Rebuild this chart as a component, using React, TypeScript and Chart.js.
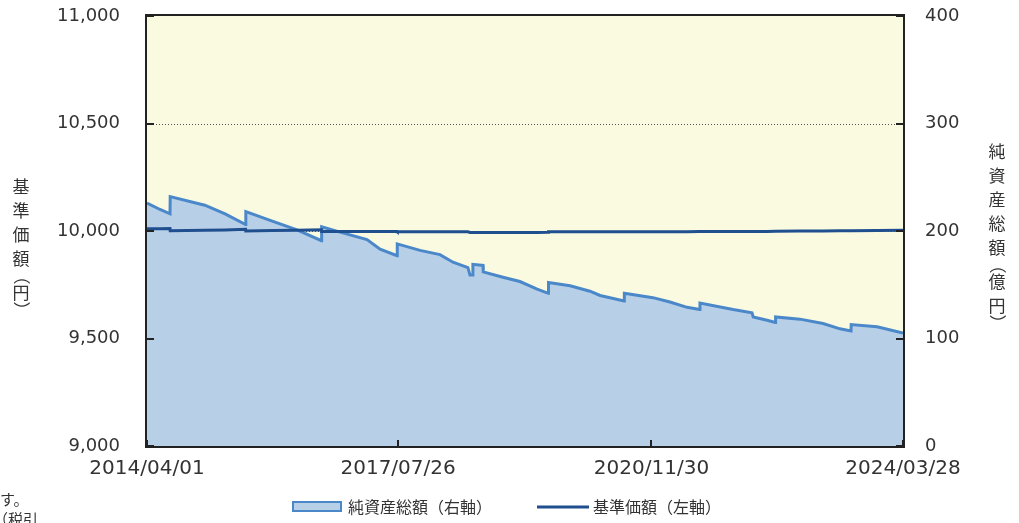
import React, { useEffect, useRef } from 'react';
import { Chart, registerables } from 'chart.js';

Chart.register(...registerables);

// ---- data ----
const startDate = '2014/04/01';
const dates = [
  '2014/04/01', '2014/06/03', '2014/07/21', '2014/07/22', '2015/01/05', '2015/04/13', '2015/07/21', '2015/07/22',
  '2015/11/30', '2016/03/25', '2016/07/21', '2016/07/22', '2016/10/19', '2017/02/26', '2017/04/30', '2017/07/21',
  '2017/07/22', '2017/11/09', '2018/02/13', '2018/04/17', '2018/06/28', '2018/07/08', '2018/07/18', '2018/07/22',
  '2018/09/09', '2018/09/10', '2018/12/14', '2019/03/06', '2019/05/28', '2019/07/21', '2019/07/22', '2019/11/03',
  '2020/02/07', '2020/03/27', '2020/07/21', '2020/07/22', '2020/12/07', '2021/02/27', '2021/05/21', '2021/07/21',
  '2021/07/22', '2021/12/29', '2022/03/30', '2022/04/05', '2022/06/11', '2022/07/21', '2022/07/22', '2022/11/17',
  '2023/03/08', '2023/05/29', '2023/07/21', '2023/07/22', '2023/11/24', '2024/03/28',
];
// 純資産総額（億円）
const aumValues = [
  226, 220, 216, 232, 224, 216, 206, 218,
  209, 201, 191, 204, 199, 192, 183, 177,
  188, 182, 178, 171, 166, 159, 159, 169,
  168, 162, 157, 153, 146, 142, 152, 149,
  144, 140, 135, 142, 138, 134, 129, 127,
  133, 127, 124, 120, 117, 115, 120, 118,
  114, 109, 107, 113, 111, 105,
];
// 基準価額（円）
const navValues = [
  10010, 10010, 10011, 10001, 10003, 10005, 10008, 10000,
  10002, 10004, 10006, 9998, 9998, 9998, 9998, 9998,
  9997, 9997, 9997, 9997, 9996, 9993, 9993, 9993,
  9993, 9993, 9993, 9993, 9993, 9994, 9996, 9997,
  9997, 9997, 9997, 9997, 9997, 9997, 9997, 9998,
  9998, 9998, 9998, 9998, 9998, 9999, 9999, 10000,
  10000, 10001, 10001, 10001, 10002, 10004,
];
const xTickLabels = ['2014/04/01', '2017/07/26', '2020/11/30', '2024/03/28'];
const leftTicks = [9000, 9500, 10000, 10500, 11000];
const rightTicks = [0, 100, 200, 300, 400];
const leftTitle = '基準価額（円）';
const rightTitle = '純資産総額（億円）';
const legendLabels = ['純資産総額（右軸）', '基準価額（左軸）'];
const noteLines = ['す。', '（税引'];

// ---- helpers ----
function dayOffset(d: string): number {
  const [y, m, dd] = d.split('/').map(Number);
  const [sy, sm, sd] = startDate.split('/').map(Number);
  return Math.round((Date.UTC(y, m - 1, dd) - Date.UTC(sy, sm - 1, sd)) / 86400000);
}

const TEXT = '#333333';
const CJK = '"Noto Sans CJK JP", "Noto Sans", sans-serif';
const NUM = '"DejaVu Sans", Verdana, sans-serif';
const AUM_LINE = '#4a88c9';
const AUM_FILL = '#b8cfe8';
const NAV_LINE = '#1f4f8f';

function drawVertical(ctx: CanvasRenderingContext2D, text: string, x: number, yStart: number) {
  let y = yStart;
  let prevParen: boolean | null = null;
  ctx.font = `17px ${CJK}`;
  ctx.fillStyle = TEXT;
  ctx.textAlign = 'center';
  ctx.textBaseline = 'middle';
  for (const ch of Array.from(text)) {
    const isParen = ch === '（' || ch === '）';
    if (prevParen !== null) y += isParen || prevParen ? 17 : 24;
    if (isParen) {
      ctx.save();
      ctx.translate(x, y);
      ctx.rotate(Math.PI / 2);
      ctx.fillText(ch, 0, 0);
      ctx.restore();
    } else {
      ctx.fillText(ch, x, y);
    }
    prevParen = isParen;
  }
}

const decorPlugin = {
  id: 'decor',
  beforeDraw(chart: any) {
    const { ctx, chartArea: a } = chart;
    ctx.save();
    ctx.fillStyle = '#fafae1';
    ctx.fillRect(a.left, a.top, a.right - a.left, a.bottom - a.top);
    ctx.strokeStyle = '#555';
    ctx.lineWidth = 1;
    ctx.setLineDash([1, 2]);
    for (const v of leftTicks) {
      if (v === leftTicks[0] || v === leftTicks[leftTicks.length - 1]) continue;
      const y = Math.round(chart.scales.y.getPixelForValue(v)) + 0.5;
      ctx.beginPath();
      ctx.moveTo(a.left, y);
      ctx.lineTo(a.right, y);
      ctx.stroke();
    }
    ctx.restore();
  },
  afterDatasetsDraw(chart: any) {
    const { ctx, chartArea: a } = chart;
    ctx.save();
    ctx.strokeStyle = '#222';
    ctx.lineWidth = 2;
    ctx.setLineDash([]);
    ctx.strokeRect(a.left - 1, a.top - 1, a.right - a.left + 2, a.bottom - a.top + 2);
    for (const v of leftTicks) {
      const y = Math.round(chart.scales.y.getPixelForValue(v));
      ctx.beginPath();
      ctx.moveTo(a.left, y);
      ctx.lineTo(a.left + 7, y);
      ctx.stroke();
    }
    for (const v of rightTicks) {
      const y = Math.round(chart.scales.y1.getPixelForValue(v));
      ctx.beginPath();
      ctx.moveTo(a.right, y);
      ctx.lineTo(a.right - 7, y);
      ctx.stroke();
    }
    for (const d of xTickLabels) {
      const x = Math.round(chart.scales.x.getPixelForValue(dayOffset(d)));
      ctx.beginPath();
      ctx.moveTo(x, a.bottom);
      ctx.lineTo(x, a.bottom - 6);
      ctx.stroke();
    }
    ctx.restore();
  },
  afterDraw(chart: any) {
    const { ctx } = chart;
    ctx.save();
    drawVertical(ctx, leftTitle, 21, 187);
    drawVertical(ctx, rightTitle, 997, 152);

    // legend
    const ly = 507;
    ctx.fillStyle = AUM_FILL;
    ctx.strokeStyle = AUM_LINE;
    ctx.lineWidth = 2;
    ctx.fillRect(293, ly - 5, 48, 9);
    ctx.strokeRect(293, ly - 5, 48, 9);
    ctx.font = `16px ${CJK}`;
    ctx.fillStyle = TEXT;
    ctx.textAlign = 'left';
    ctx.textBaseline = 'middle';
    ctx.fillText(legendLabels[0], 348, ly);
    ctx.strokeStyle = NAV_LINE;
    ctx.lineWidth = 3;
    ctx.beginPath();
    ctx.moveTo(537, ly);
    ctx.lineTo(589, ly);
    ctx.stroke();
    ctx.fillText(legendLabels[1], 593, ly);

    // cropped footnote fragments
    ctx.font = `15px ${CJK}`;
    ctx.fillText(noteLines[0], 0, 499);
    ctx.fillText(noteLines[1], -7, 519);
    ctx.restore();
  },
};

export default function App() {
  const ref = useRef<HTMLCanvasElement | null>(null);

  useEffect(() => {
    if (!ref.current) return;
    const xs = dates.map(dayOffset);
    const xMax = dayOffset(xTickLabels[xTickLabels.length - 1]);
    const zeroVertPad = (scale: any, w: number) => {
      scale.width = w;
      scale.paddingTop = 0;
      scale.paddingBottom = 0;
    };
    const chart = new Chart(ref.current, {
      type: 'line',
      data: {
        datasets: [
          {
            label: legendLabels[0],
            data: xs.map((x, i) => ({ x, y: aumValues[i] })),
            yAxisID: 'y1',
            borderColor: AUM_LINE,
            backgroundColor: AUM_FILL,
            borderWidth: 3,
            fill: 'origin',
            pointRadius: 0,
            tension: 0,
            order: 2,
          },
          {
            label: legendLabels[1],
            data: xs.map((x, i) => ({ x, y: navValues[i] })),
            yAxisID: 'y',
            borderColor: NAV_LINE,
            borderWidth: 3,
            fill: false,
            pointRadius: 0,
            tension: 0,
            order: 1,
          },
        ],
      },
      options: {
        animation: false,
        responsive: false,
        maintainAspectRatio: false,
        layout: { padding: { top: 16, left: 0, right: 0, bottom: 0 } },
        plugins: {
          legend: { display: false },
          tooltip: { enabled: false },
        },
        scales: {
          x: {
            type: 'linear',
            min: 0,
            max: xMax,
            grid: { display: false, drawTicks: false },
            border: { display: false },
            afterBuildTicks: (scale: any) => {
              scale.ticks = xTickLabels.map((d) => ({ value: dayOffset(d) }));
            },
            afterFit: (scale: any) => {
              scale.height = 77;
              scale.paddingLeft = 0;
              scale.paddingRight = 0;
            },
            ticks: {
              autoSkip: false,
              maxRotation: 0,
              minRotation: 0,
              padding: 11,
              color: TEXT,
              font: { family: NUM, size: 20 },
              callback: (v: any) => {
                const i = xTickLabels.findIndex((d) => dayOffset(d) === v);
                return i >= 0 ? xTickLabels[i] : '';
              },
            },
          },
          y: {
            position: 'left',
            min: leftTicks[0],
            max: leftTicks[leftTicks.length - 1],
            grid: { display: false, drawTicks: false },
            border: { display: false },
            afterBuildTicks: (scale: any) => {
              scale.ticks = leftTicks.map((v) => ({ value: v }));
            },
            afterFit: (scale: any) => zeroVertPad(scale, 147),
            ticks: {
              padding: 27,
              color: TEXT,
              font: { family: NUM, size: 18 },
              callback: (v: any) => Number(v).toLocaleString('en-US'),
            },
          },
          y1: {
            position: 'right',
            min: rightTicks[0],
            max: rightTicks[rightTicks.length - 1],
            grid: { display: false, drawTicks: false },
            border: { display: false },
            afterBuildTicks: (scale: any) => {
              scale.ticks = rightTicks.map((v) => ({ value: v }));
            },
            afterFit: (scale: any) => zeroVertPad(scale, 116),
            ticks: {
              padding: 22,
              color: TEXT,
              font: { family: NUM, size: 18 },
              callback: (v: any) => String(v),
            },
          },
        },
      },
      plugins: [decorPlugin],
    });
    return () => chart.destroy();
  }, []);

  return (
    <div style={{ position: 'absolute', left: 0, top: 0, width: 1019, height: 523, overflow: 'hidden', background: '#fff' }}>
      <canvas ref={ref} width={1019} height={523} style={{ display: 'block', width: 1019, height: 523 }} />
    </div>
  );
}
